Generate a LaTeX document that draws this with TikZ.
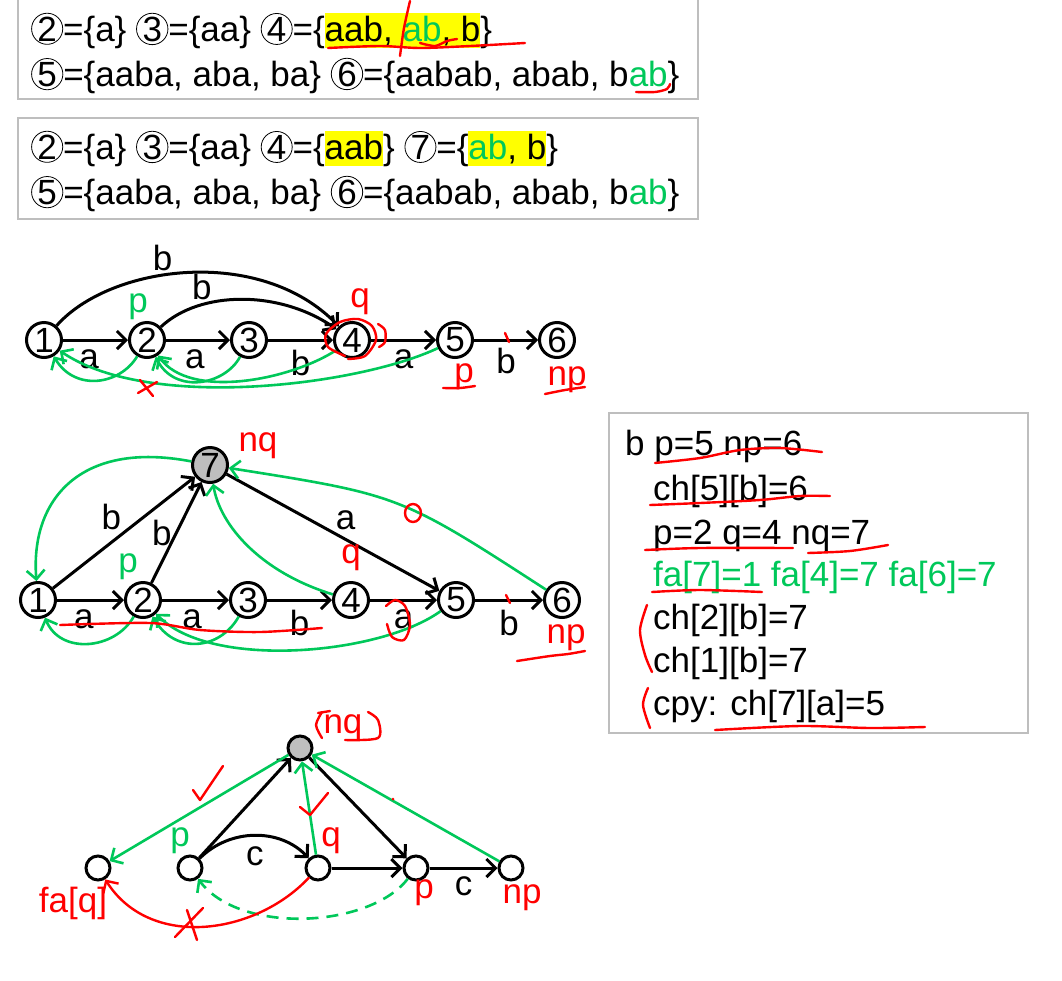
\documentclass[tikz,border=0pt]{standalone}
\usepackage{fontspec}
\setmainfont{Liberation Sans}
\usetikzlibrary{arrows.meta}

\definecolor{lgreen}{RGB}{0,200,90}
\definecolor{hlyellow}{RGB}{255,255,0}
\definecolor{boxgray}{RGB}{190,190,190}
\definecolor{nodegray}{RGB}{190,190,190}

\newcommand{\hl}[1]{{\setlength{\fboxsep}{0pt}\colorbox{hlyellow}{\rule[-7pt]{0pt}{35pt}#1}}}
\newcommand{\cn}[1]{\tikz[baseline=(cc.base)]\node[circle, draw=black, line width=0.8pt, inner sep=0pt, minimum size=31pt, text=black] (cc) {#1};}

\tikzset{
  st/.style={circle, draw, line width=3pt, minimum size=35pt, inner sep=0pt},
  dot/.style={circle, draw, line width=3pt, minimum size=24pt, inner sep=0pt},
  trans/.style={line width=3pt, -{Straight Barb[length=9pt,width=18pt]}},
  sufl/.style={lgreen, line width=2.6pt, -{Straight Barb[length=9pt,width=18pt]}},
  redink/.style={red, line width=2.4pt, line cap=round, line join=round},
  panel/.style={draw=boxgray, line width=2pt},
  txt/.style={anchor=base west, inner sep=0pt},
}

\begin{document}
\begin{tikzpicture}[x=1pt, y=-1pt, font=\fontsize{35}{40}\selectfont]
    \path[use as bounding box, fill=white] (0,0) rectangle (1062,980);

    % Sets before the split
    \draw[panel] (18,-5) -- (18,99) -- (698,99) -- (698,-5);
    \node[txt] (s1) at (31,41) {\cn{2}=\{a\} \cn{3}=\{aa\} \cn{4}=\{\hl{aab, \textcolor{lgreen}{ab}, b}\}};
    \node[txt] (s2) at (31,86) {\cn{5}=\{aaba, aba, ba\} \cn{6}=\{aabab, abab, b\textcolor{lgreen}{ab}\}};
    \draw[redink] plot[smooth] coordinates {(328,48) (380,46) (420,48) (470,46) (525,43)};
    \draw[redink] plot[smooth] coordinates {(410,1) (404,28) (400,56)};
    \draw[redink] plot[smooth] coordinates {(420,43) (435,46) (447,41) (457,39)};
    \draw[redink] plot[smooth] coordinates {(636,92) (655,92) (667,89) (670,84)};

    % Sets after the split
    \draw[panel] (18,118) rectangle (698,219);
    \node[txt] (t1) at (31,159) {\cn{2}=\{a\} \cn{3}=\{aa\} \cn{4}=\{\hl{aab}\} \cn{7}=\{\hl{\textcolor{lgreen}{ab}, b}\}};
    \node[txt] (t2) at (31,204) {\cn{5}=\{aaba, aba, ba\} \cn{6}=\{aabab, abab, b\textcolor{lgreen}{ab}\}};

    % Automaton before adding b
    \node[st] (a1) at (44,340) {1};
    \node[st] (a2) at (147,340) {2};
    \node[st] (a3) at (249,340) {3};
    \node[st] (a4) at (352,340) {4};
    \node[st] (a5) at (455,340) {5};
    \node[st] (a6) at (557,340) {6};
    \draw[trans] (a1) -- (a2) node[pos=.4, below=5pt] {a};
    \draw[trans] (a2) -- (a3) node[pos=.45, below=5pt] {a};
    \draw[trans] (a3) -- (a4) node[pos=.5, below=5pt] {b};
    \draw[trans] (a4) -- (a5) node[pos=.5, below=5pt] {a};
    \draw[trans] (a5) -- (a6) node[pos=.5, below=3pt] {b};
    \draw[trans] (a1) .. controls (110,265) and (260,245) .. (a4) node[pos=.42, above] {b};
    \draw[trans] (a2) .. controls (200,290) and (280,290) .. (a4) node[pos=.28, above] {b};
    \draw[sufl] (a2) .. controls (120,385) and (75,392) .. (a1);
    \draw[sufl] (a3) .. controls (225,385) and (175,395) .. (a2);
    \draw[sufl] (a4) .. controls (290,380) and (190,400) .. (a2);
    \draw[sufl] (a5) .. controls (360,385) and (150,412) .. (a1);
    \node[text=lgreen] (p1) at (138,307) {p};
    \node[text=red] (q1) at (360,302) {q};
    \node[text=red] (pp1) at (464,377) {p};
    \node[text=red] (np1) at (567,380) {np};
    \draw[redink] plot[smooth] coordinates {(345,356) (328,347) (326,334) (340,322) (358,319) (372,326) (376,340) (365,356) (348,359)};
    \draw[redink] plot[smooth] coordinates {(378,324) (385,330) (385,342) (379,347)};
    \draw[redink] (505,333) -- (509,342);
    \draw[redink] (140,380) -- (153,396) (138,393) -- (157,382);
    \draw[redink] plot[smooth] coordinates {(443,388) (460,388) (475,386)};
    \draw[redink] plot[smooth] coordinates {(545,394) (565,390) (585,387)};

    % Automaton after cloning into 7
    \node[st] (b1) at (38,600) {1};
    \node[st] (b2) at (143,600) {2};
    \node[st] (b3) at (248,600) {3};
    \node[st] (b4) at (351,600) {4};
    \node[st] (b5) at (456,600) {5};
    \node[st] (b6) at (562,600) {6};
    \node[st, fill=nodegray] (b7) at (210,465) {7};
    \draw[trans] (b1) -- (b2) node[pos=.4, below=5pt] {a};
    \draw[trans] (b2) -- (b3) node[pos=.45, below=5pt] {a};
    \draw[trans] (b3) -- (b4) node[pos=.5, below=5pt] {b};
    \draw[trans] (b4) -- (b5) node[pos=.5, below=5pt] {a};
    \draw[trans] (b5) -- (b6) node[pos=.5, below=5pt] {b};
    \draw[trans] (b1) -- (b7) node[midway, above left=-2pt] {b};
    \draw[trans] (b2) -- (b7) node[midway, left] {b};
    \draw[trans] (b7) -- (b5) node[midway, above right=-2pt] {a};
    \draw[sufl] (b7) .. controls (80,440) and (30,500) .. (b1);
    \draw[sufl] (b4) .. controls (260,572) and (220,525) .. (b7);
    \draw[sufl] (b6) .. controls (400,495) .. (b7);
    \draw[sufl] (b2) .. controls (115,650) and (60,655) .. (b1);
    \draw[sufl] (b3) .. controls (220,650) and (175,655) .. (b2);
    \draw[sufl] (b5) .. controls (380,655) and (210,670) .. (b2);
    \node[text=red] (nq2) at (258,446) {nq};
    \node[text=red] (q2) at (351,558) {q};
    \node[text=lgreen] (p2) at (128,567) {p};
    \node[text=red] (np2) at (566,638) {np};
    \draw[redink] (413,513) ellipse [x radius=8, y radius=9];
    \draw[redink] plot[smooth] coordinates {(60,625) (150,623) (200,630) (260,632) (322,628)};
    \draw[redink] plot[smooth] coordinates {(386,606) (395,600) (405,606) (410,625) (404,640) (392,637) (387,624)};
    \draw[redink] (506,595) -- (510,603);
    \draw[redink] plot[smooth] coordinates {(517,661) (550,656) (568,654) (585,651)};

    % Steps of the extend
    \draw[panel] (609,413) rectangle (1028,733);
    \node[txt] (r1) at (625,455) {b p=5 np=6};
    \node[txt] (r2) at (653,500) {ch[5][b]=6};
    \node[txt] (r3) at (653,544) {p=2 q=4 nq=7};
    \node[txt, text=lgreen] (r4) at (653,586) {fa[7]=1 fa[4]=7 fa[6]=7};
    \node[txt] (r5) at (653,629) {ch[2][b]=7};
    \node[txt] (r6) at (653,672) {ch[1][b]=7};
    \node[txt] (r7) at (653,715) {cpy: ch[7][a]=5};
    \draw[redink] plot[smooth] coordinates {(655,463) (700,458) (740,450) (780,448) (822,452)};
    \draw[redink] plot[smooth] coordinates {(650,505) (700,503) (760,500) (800,496) (830,496)};
    \draw[redink] plot[smooth] coordinates {(645,550) (700,548) (793,548)};
    \draw[redink] plot[smooth] coordinates {(808,553) (850,551) (888,545)};
    \draw[redink] plot[smooth] coordinates {(652,592) (700,590) (762,592)};
    \draw[redink] plot[smooth] coordinates {(647,605) (640,630) (645,655) (652,672)};
    \draw[redink] plot[smooth] coordinates {(648,688) (643,705) (650,728)};
    \draw[redink] plot[smooth] coordinates {(715,730) (800,726) (870,728) (925,727)};

    % General case
    \node[dot] (c0) at (98,868) {};
    \node[dot] (cp) at (190,868) {};
    \node[dot] (cq) at (318,868) {};
    \node[dot] (cpp) at (416,868) {};
    \node[dot] (cnp) at (511,868) {};
    \node[dot, fill=nodegray] (cnq) at (300,748) {};
    \draw[trans] (cp) -- (cnq);
    \draw[trans] (cp) .. controls (230,828) and (280,828) .. (cq) node[pos=.5, below=6pt] {c};
    \draw[trans] (cq) -- (cpp);
    \draw[trans] (cpp) -- (cnp) node[midway, below=4pt] {c};
    \draw[trans] (cnq) -- (cpp);
    \draw[sufl] (cnq) -- (c0);
    \draw[sufl] (cq) -- (cnq);
    \draw[sufl] (cnp) -- (cnq);
    \draw[sufl, dashed, dash pattern=on 12pt off 8pt] (cpp) .. controls (370,928) and (240,935) .. (cp);
    \draw[redink, -{Straight Barb[length=9pt,width=18pt]}] (cq) .. controls (255,935) and (150,950) .. (c0);
    \node[text=lgreen] (lp) at (180,841) {p};
    \node[text=red] (lq) at (331,841) {q};
    \node[text=red] (lpp) at (424,893) {p};
    \node[text=red] (lnp) at (522,898) {np};
    \node[text=red] (lfa) at (73,903) {fa[q]};
    \node[text=red] (lnq) at (343,728) {nq};
    \draw[redink] plot[smooth] coordinates {(322,712) (316,725) (322,738)};
    \draw[redink] (318,713) -- (330,711);
    \draw[redink] plot[smooth] coordinates {(368,712) (378,720) (378,738) (345,740)};
    \draw[redink] (175,937) -- (203,908) (187,910) -- (197,940);
    \draw[redink] (193,790) -- (200,800) -- (223,766);
    \draw[redink] (300,807) -- (310,815) -- (328,793);
    \fill[red] (393,799) circle (1.5);
\end{tikzpicture}
\end{document}
